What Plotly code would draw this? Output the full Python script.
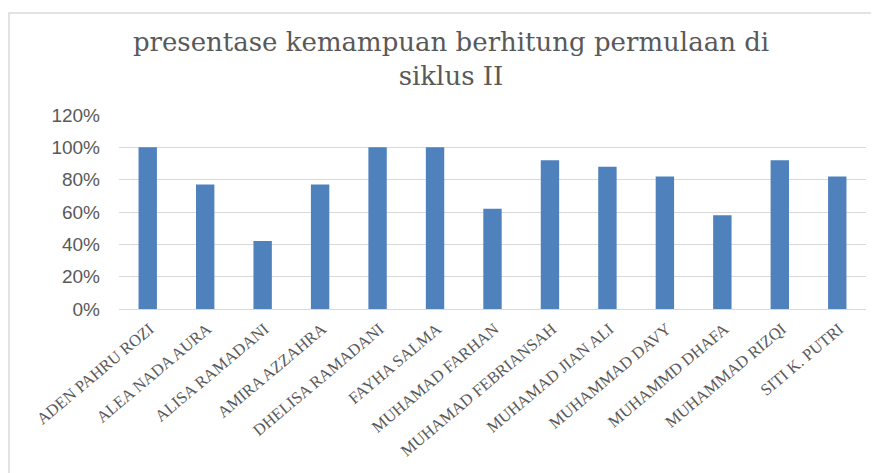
import plotly.graph_objects as go

names = ["ADEN PAHRU ROZI", "ALEA NADA AURA", "ALISA RAMADANI", "AMIRA AZZAHRA",
         "DHELISA RAMADANI", "FAYHA SALMA", "MUHAMAD FARHAN", "MUHAMAD FEBRIANSAH",
         "MUHAMAD JIAN ALI", "MUHAMMAD DAVY", "MUHAMMD DHAFA", "MUHAMMAD RIZQI",
         "SITI K. PUTRI"]
values = [1.00, 0.77, 0.42, 0.77, 1.00, 1.00, 0.62, 0.92, 0.88, 0.82, 0.58, 0.92, 0.82]
y_ticks = [0, 0.2, 0.4, 0.6, 0.8, 1.0, 1.2]
y_tick_labels = ["0%", "20%", "40%", "60%", "80%", "100%", "120%"]
title_text = "presentase kemampuan berhitung permulaan di<br>siklus II"

fig = go.Figure()
fig.add_trace(go.Bar(x=names, y=values, marker=dict(color="#4F81BD", line=dict(width=0))))

OFF = 8  # browser body margin
W, H = 879 - OFF, 473 - OFF
# page pixel positions of plot area
PL, PR, PT, PB = 119, 866, 115, 309
l, r, t, b = PL - OFF, W - (PR - OFF), PT - OFF, H - (PB - OFF)
pw, ph = PR - PL, PB - PT

def px_x(p):
    return (p - PL) / pw

def px_y(p):
    return (PB - p) / ph

fig.update_layout(
    width=W, height=H, autosize=False,
    margin=dict(l=l, r=r, t=t, b=b, autoexpand=False),
    paper_bgcolor="white", plot_bgcolor="white",
    bargap=0.68,
    showlegend=False,
    title=dict(text=title_text, x=px_x(451), xref="paper", xanchor="center",
               y=1 - (51 - OFF) / H, yanchor="middle",
               font=dict(family="DejaVu Serif", size=26, color="#595959")),
    xaxis=dict(tickangle=-40, tickfont=dict(family="Liberation Serif", size=16.5, color="#595959"),
               showline=True, linecolor="#D9D9D9", linewidth=1, ticks="", showgrid=False,
               ticklabelstandoff=3, ticklabelshift=2, automargin=False),
    yaxis=dict(range=[0, 1.2], tickvals=y_ticks, ticktext=y_tick_labels,
               tickfont=dict(family="Liberation Sans", size=19, color="#595959"),
               showgrid=True, gridcolor="#D9D9D9", gridwidth=1, zeroline=False,
               ticks="", ticklabelstandoff=18, automargin=False),
    shapes=[dict(type="rect", xref="paper", yref="paper",
                 x0=px_x(9), x1=px_x(900), y0=px_y(13), y1=px_y(500),
                 line=dict(color="#D9D9D9", width=1.5), fillcolor="rgba(0,0,0,0)", layer="below")],
)

fig.write_html("out.html")
